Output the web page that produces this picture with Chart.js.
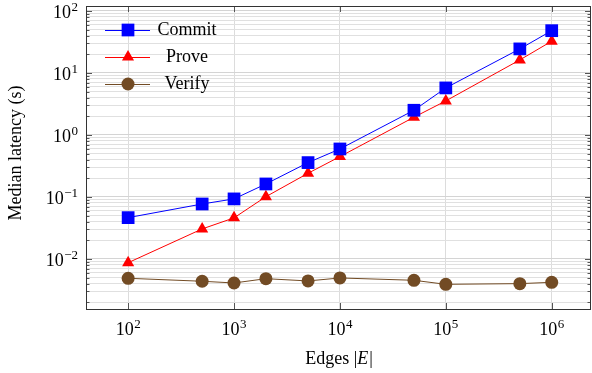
<!DOCTYPE html>
<html>
<head>
<meta charset="utf-8">
<script src="https://cdn.jsdelivr.net/npm/chart.js@4.4.1/dist/chart.umd.min.js"></script>
<style>
  html, body { margin: 0; padding: 0; background: #fff; }
  #wrap { width: 592px; height: 373px; }
</style>
</head>
<body>
<div id="wrap"><canvas id="latencyChart" width="592" height="373"></canvas></div>
<script>
// data (seconds)
const edges = [100, 500, 1000, 2000, 5000, 10000, 50000, 100000, 500000, 1000000];
const commitTimes = [0.0464, 0.077, 0.093, 0.162, 0.358, 0.594, 2.5, 5.73, 24.4, 48];
const proveTimes = [0.0087, 0.0305, 0.046, 0.101, 0.241, 0.447, 1.93, 3.54, 16.2, 32.5];
const verifyTimes = [0.00488, 0.00437, 0.0041, 0.00481, 0.00442, 0.00494, 0.00453, 0.0039, 0.0040, 0.0042];
const seriesNames = ['Commit', 'Prove', 'Verify'];
const xTickValues = [1e2, 1e3, 1e4, 1e5, 1e6];
const yDecades = [-3, -2, -1, 0, 1];

const FONT = "'Liberation Serif', 'DejaVu Serif', serif";
const colors = ['#0000ff', '#ff0000', '#724b24'];
const styles = ['rect', 'triangle', 'circle'];
const radii = [9, 7, 6.5];

// y ticks: every 1..9 x 10^n (minor grid), labels only on powers of ten
const yTickValues = [];
yDecades.forEach(d => {
  for (let m = 1; m <= 9; m++) {
    const v = m * Math.pow(10, d);
    if (v >= 1.56e-3) yTickValues.push(v);
  }
});
yTickValues.push(100);

function isPow10(v) {
  const l = Math.log10(v);
  return Math.abs(l - Math.round(l)) < 1e-6;
}

// "10" with a raised exponent, like the TeX labels
function drawPow(ctx, v, x, baseY, align) {
  const e = String(Math.round(Math.log10(v))).replace('-', '\u2212');
  ctx.font = '18px ' + FONT;
  const wb = ctx.measureText('10').width;
  ctx.font = '13px ' + FONT;
  const we = ctx.measureText(e).width;
  const total = wb + we + 0.5;
  const x0 = align === 'right' ? x - total : x - total / 2;
  ctx.textAlign = 'left';
  ctx.textBaseline = 'alphabetic';
  ctx.font = '18px ' + FONT;
  ctx.fillText('10', x0, baseY);
  ctx.font = '13px ' + FONT;
  ctx.fillText(e, x0 + wb + 0.5, baseY - 7);
}

function makeSet(i, values) {
  return {
    label: seriesNames[i],
    data: edges.map((e, k) => ({ x: e, y: values[k] })),
    borderColor: colors[i],
    backgroundColor: colors[i],
    borderWidth: 1,
    pointStyle: styles[i],
    pointRadius: radii[i],
    pointHoverRadius: radii[i],
    pointBorderWidth: 0,
    tension: 0
  };
}

// inward ticks, tick labels, axis titles and the legend inside the plot
const extras = {
  id: 'extras',
  afterDraw(chart) {
    const ctx = chart.ctx;
    const a = chart.chartArea;
    const xs = chart.scales.x, ys = chart.scales.y;
    ctx.save();
    ctx.strokeStyle = '#555';
    ctx.lineWidth = 1;
    ctx.beginPath();
    yTickValues.forEach(v => {
      const y = Math.round(ys.getPixelForValue(v)) + 0.5;
      const len = isPow10(v) ? 6 : 3.5;
      ctx.moveTo(a.left, y); ctx.lineTo(a.left + len, y);
      ctx.moveTo(a.right, y); ctx.lineTo(a.right - len, y);
    });
    xTickValues.forEach(v => {
      const x = Math.round(xs.getPixelForValue(v)) + 0.5;
      ctx.moveTo(x, a.top); ctx.lineTo(x, a.top + 6);
      ctx.moveTo(x, a.bottom); ctx.lineTo(x, a.bottom - 6);
    });
    ctx.stroke();

    // frame
    ctx.strokeStyle = '#333';
    ctx.strokeRect(a.left + 0.5, a.top + 0.5, a.right - a.left - 1, a.bottom - a.top);

    // tick labels
    ctx.fillStyle = '#000';
    yTickValues.filter(isPow10).forEach(v => {
      drawPow(ctx, v, a.left - 8, ys.getPixelForValue(v) + 7, 'right');
    });
    xTickValues.forEach(v => {
      drawPow(ctx, v, xs.getPixelForValue(v), a.bottom + 26, 'center');
    });

    // x title
    ctx.textAlign = 'left';
    ctx.textBaseline = 'alphabetic';
    const p1 = 'Edges |', p2 = 'E', p3 = '|';
    ctx.font = '18px ' + FONT;
    const w1 = ctx.measureText(p1).width, w3 = ctx.measureText(p3).width;
    ctx.font = 'italic 18px ' + FONT;
    const w2 = ctx.measureText(p2).width;
    const x0 = 339 - (w1 + w2 + w3 + 1) / 2;
    const ty = 364;
    ctx.font = '18px ' + FONT;
    ctx.fillText(p1, x0, ty);
    ctx.font = 'italic 18px ' + FONT;
    ctx.fillText(p2, x0 + w1, ty);
    ctx.font = '18px ' + FONT;
    ctx.fillText(p3, x0 + w1 + w2 + 1, ty);

    // y title
    ctx.save();
    ctx.translate(21, 153);
    ctx.rotate(-Math.PI / 2);
    ctx.textAlign = 'center';
    ctx.font = '18px ' + FONT;
    ctx.fillText('Median latency (s)', 0, 0);
    ctx.restore();

    // legend
    const rows = [30, 57, 84];
    rows.forEach((ry, i) => {
      ctx.strokeStyle = colors[i];
      ctx.lineWidth = 1;
      ctx.beginPath();
      ctx.moveTo(105, ry + 0.5); ctx.lineTo(150, ry + 0.5);
      ctx.stroke();
      ctx.fillStyle = colors[i];
      Chart.helpers.drawPoint(ctx, { pointStyle: styles[i], radius: radii[i], rotation: 0, borderWidth: 0 }, 128, ry);
      ctx.fillStyle = '#000';
      ctx.textAlign = 'center';
      ctx.textBaseline = 'middle';
      ctx.font = '18px ' + FONT;
      ctx.fillText(seriesNames[i], 187, ry);
    });
    ctx.restore();
  }
};

new Chart(document.getElementById('latencyChart'), {
  type: 'line',
  data: {
    datasets: [makeSet(0, commitTimes), makeSet(1, proveTimes), makeSet(2, verifyTimes)]
  },
  options: {
    responsive: false,
    animation: false,
    layout: { autoPadding: false, padding: { top: 6, right: 1, left: 0, bottom: 0 } },
    plugins: { legend: { display: false }, tooltip: { enabled: false } },
    scales: {
      x: {
        type: 'logarithmic',
        min: 40,
        max: 2.35e6,
        afterBuildTicks: s => { s.ticks = xTickValues.map(v => ({ value: v })); },
        afterFit: s => { s.height = 64; s.paddingLeft = 0; s.paddingRight = 0; },
        border: { display: false },
        grid: { color: '#dcdcdc', lineWidth: 1, drawTicks: false },
        ticks: { display: false }
      },
      y: {
        type: 'logarithmic',
        min: 1.56e-3,
        max: 120,
        afterBuildTicks: s => { s.ticks = yTickValues.map(v => ({ value: v })); },
        afterFit: s => { s.width = 86; s.paddingTop = 0; s.paddingBottom = 0; },
        border: { display: false },
        grid: {
          color: c => (c.tick && isPow10(c.tick.value)) ? '#d4d4d4' : '#e0e0e0',
          lineWidth: 1,
          drawTicks: false
        },
        ticks: { display: false }
      }
    }
  },
  plugins: [extras]
});
</script>
</body>
</html>
